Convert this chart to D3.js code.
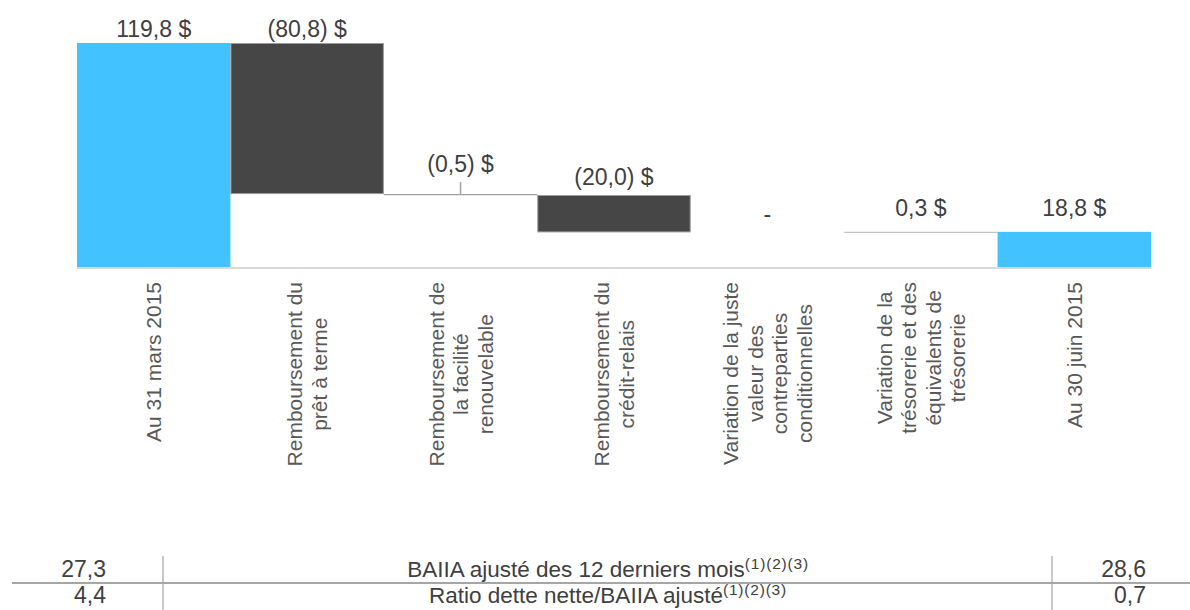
<!DOCTYPE html>
<html><head><meta charset="utf-8">
<script src="https://cdn.jsdelivr.net/npm/d3@7"></script>
<style>
html,body{margin:0;padding:0;background:#fff;}
svg{display:block;font-family:"Liberation Sans",Arial,sans-serif;}
</style></head>
<body>
<svg id="chart" width="1190" height="610"></svg>
<script>
// ---- data ----
const categories = [
  ["Au 31 mars 2015"],
  ["Remboursement du", "prêt à terme"],
  ["Remboursement de", "la facilité", "renouvelable"],
  ["Remboursement du", "crédit-relais"],
  ["Variation de la juste", "valeur des", "contreparties", "conditionnelles"],
  ["Variation de la", "trésorerie et des", "équivalents de", "trésorerie"],
  ["Au 30 juin 2015"]
];
const values = [119.8, -80.8, -0.5, -20.0, 0, 0.3, 18.8];
const kinds = ["total", "delta", "delta", "delta", "delta", "delta", "total"];
const valueLabels = ["119,8 $", "(80,8) $", "(0,5) $", "(20,0) $", "-", "0,3 $", "18,8 $"];
const tableLabels = ["BAIIA ajusté des 12 derniers mois", "Ratio dette nette/BAIIA ajusté"];
const tableBefore = ["27,3", "4,4"];
const tableAfter = ["28,6", "0,7"];
const footnote = "(1)(2)(3)";

// ---- layout ----
const svg = d3.select("#chart");
const plotLeft = 77, plotRight = 1151, plotBase = 267, plotTop = 43;
const x = d3.scaleBand().domain(d3.range(categories.length)).range([plotLeft, plotRight]).padding(0);
const y = d3.scaleLinear().domain([0, d3.max(values)]).range([plotBase, plotTop]);

// waterfall start/end
let run = 0;
const bars = values.map((v, i) => {
  let s, e;
  if (kinds[i] === "total") { s = 0; e = v; run = v; }
  else { s = run; e = run + v; run = e; }
  return {i, v, s, e, kind: kinds[i]};
});

const labelLift = [6, 6, 22, 10, 10, 16, 16];

// axis line
svg.append("line")
  .attr("x1", plotLeft).attr("x2", plotRight)
  .attr("y1", plotBase + 1).attr("y2", plotBase + 1)
  .attr("stroke", "#d9d9d9").attr("stroke-width", 2);

// bars
bars.forEach(b => {
  const y0 = y(Math.max(b.s, b.e)), y1 = y(Math.min(b.s, b.e));
  const bx = x(b.i), bw = x.bandwidth();
  if (b.kind === "total") {
    svg.append("rect").attr("x", bx).attr("y", y0).attr("width", bw).attr("height", y1 - y0)
      .attr("fill", "#42C3FF");
  } else if (b.v !== 0) {
    if (Math.abs(b.v) >= 1) {
      svg.append("rect").attr("x", bx + 0.5).attr("y", y0 + 0.5).attr("width", bw - 1).attr("height", y1 - y0 - 1)
        .attr("fill", "#464646").attr("stroke", "#9a9a9a").attr("stroke-width", 1);
    } else {
      svg.append("line").attr("x1", bx).attr("x2", bx + bw)
        .attr("y1", y0 + 0.5).attr("y2", y0 + 0.5)
        .attr("stroke", b.v < 0 ? "#a0a0a0" : "#c4c4c4").attr("stroke-width", 1.3);
      if (b.v < 0) {
        svg.append("line").attr("x1", bx + bw / 2).attr("x2", bx + bw / 2)
          .attr("y1", y0).attr("y2", y0 - 12)
          .attr("stroke", "#a0a0a0").attr("stroke-width", 1.5);
      }
    }
  }
  // value label
  svg.append("text")
    .attr("x", bx + bw / 2).attr("y", y0 - labelLift[b.i])
    .attr("text-anchor", "middle")
    .attr("font-size", 23).attr("fill", "#404040")
    .text(valueLabels[b.i]);
});

// category labels (rotated)
const labTop = 282, lineGap = 24.5;
categories.forEach((lines, i) => {
  const cx = x(i) + x.bandwidth() / 2;
  const g = svg.append("g");
  const texts = lines.map(t => g.append("text").attr("font-size", 21).attr("fill", "#595959")
    .attr("text-anchor", "middle").attr("dominant-baseline", "central").text(t));
  const maxLen = d3.max(texts, t => t.node().getComputedTextLength());
  const cy = labTop + maxLen / 2;
  texts.forEach((t, k) => {
    const lx = cx + (k - (lines.length - 1) / 2) * lineGap;
    t.attr("transform", `translate(${lx},${cy}) rotate(-90)`);
  });
});

// table
const tRowY = [577, 603];
const colL = 163, colR = 1052;
svg.append("line").attr("x1", 12).attr("x2", 1190).attr("y1", 583).attr("y2", 583)
  .attr("stroke", "#a6a6a6").attr("stroke-width", 2);
[colL, colR].forEach(cx => svg.append("line").attr("x1", cx).attr("x2", cx)
  .attr("y1", 556).attr("y2", 610).attr("stroke", "#a6a6a6").attr("stroke-width", 1.2));
tableLabels.forEach((lab, r) => {
  svg.append("text").attr("x", 106).attr("y", tRowY[r]).attr("text-anchor", "end")
    .attr("font-size", 23).attr("fill", "#404040").text(tableBefore[r]);
  svg.append("text").attr("x", 1146).attr("y", tRowY[r]).attr("text-anchor", "end")
    .attr("font-size", 23).attr("fill", "#404040").text(tableAfter[r]);
  const t = svg.append("text").attr("x", 608).attr("y", tRowY[r]).attr("text-anchor", "middle")
    .attr("font-size", 22.5).attr("fill", "#404040");
  t.append("tspan").text(lab);
  t.append("tspan").attr("font-size", 15.5).attr("letter-spacing", 0.8).attr("dy", -8).text(footnote);
});
</script>
</body></html>
